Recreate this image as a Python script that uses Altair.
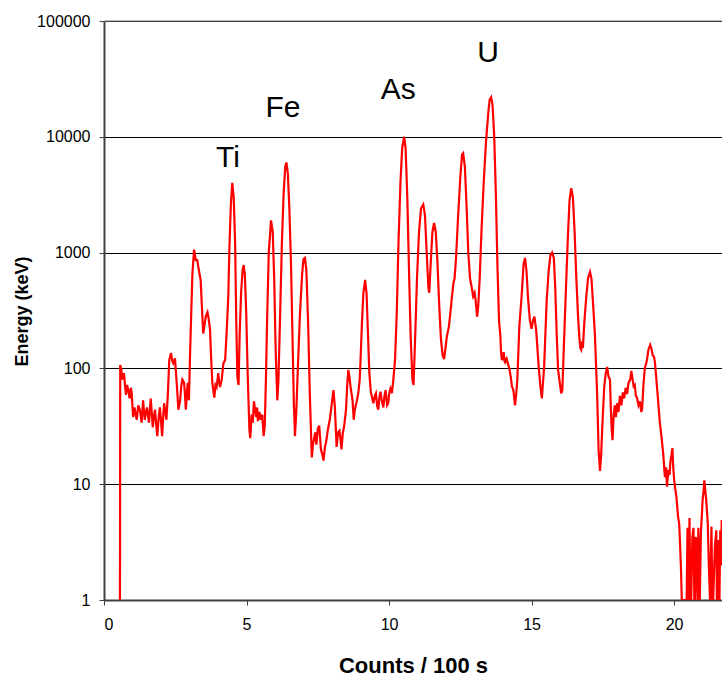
import altair as alt
import pandas as pd

# Spectrum: x = Counts / 100 s axis values, y = Energy (keV) axis values (log)
spec_x = [
    0.56, 0.57, 0.60, 0.65, 0.70, 0.74, 0.77, 0.81, 0.85, 0.90, 0.94, 0.97,
    1.02, 1.07, 1.11, 1.15, 1.20, 1.26, 1.32, 1.37, 1.43, 1.47, 1.51, 1.55,
    1.58, 1.64, 1.68, 1.71, 1.75, 1.79, 1.83, 1.87, 1.92, 1.96, 2.00, 2.04,
    2.08, 2.11, 2.15, 2.19, 2.24, 2.29, 2.35, 2.40, 2.43, 2.49, 2.55, 2.61,
    2.67, 2.71, 2.75, 2.81, 2.84, 2.87, 2.91, 2.94, 2.98, 3.02, 3.06, 3.10,
    3.16, 3.22, 3.27, 3.33, 3.39, 3.44, 3.48, 3.53, 3.57, 3.63, 3.67, 3.72,
    3.76, 3.80, 3.87, 3.91, 3.95, 4.01, 4.04, 4.07, 4.13, 4.19, 4.25, 4.30,
    4.36, 4.40, 4.45, 4.50, 4.55, 4.60, 4.64, 4.68, 4.72, 4.76, 4.81, 4.86,
    4.90, 4.94, 4.99, 5.04, 5.10, 5.13, 5.18, 5.22, 5.26, 5.30, 5.34, 5.37,
    5.40, 5.45, 5.50, 5.55, 5.60, 5.64, 5.68, 5.72, 5.78, 5.86, 5.92, 5.97,
    6.02, 6.08, 6.12, 6.18, 6.24, 6.30, 6.36, 6.40, 6.45, 6.50, 6.56, 6.61,
    6.66, 6.70, 6.75, 6.80, 6.87, 6.95, 7.00, 7.05, 7.10, 7.16, 7.22, 7.29,
    7.33, 7.36, 7.41, 7.45, 7.50, 7.55, 7.61, 7.66, 7.70, 7.75, 7.79, 7.84,
    7.87, 7.92, 7.95, 8.00, 8.05, 8.10, 8.16, 8.21, 8.26, 8.30, 8.33, 8.38,
    8.42, 8.46, 8.49, 8.53, 8.57, 8.61, 8.65, 8.72, 8.76, 8.80, 8.86, 8.92,
    8.97, 9.00, 9.05, 9.10, 9.16, 9.21, 9.26, 9.31, 9.36, 9.41, 9.45, 9.50,
    9.54, 9.58, 9.62, 9.66, 9.70, 9.75, 9.80, 9.84, 9.88, 9.93, 9.97, 10.01,
    10.05, 10.10, 10.15, 10.21, 10.27, 10.33, 10.40, 10.46, 10.53, 10.58, 10.64, 10.70,
    10.76, 10.82, 10.86, 10.92, 10.98, 11.05, 11.12, 11.20, 11.26, 11.32, 11.38, 11.41,
    11.46, 11.52, 11.58, 11.64, 11.70, 11.76, 11.82, 11.88, 11.93, 11.98, 12.03, 12.10,
    12.15, 12.20, 12.26, 12.30, 12.35, 12.42, 12.50, 12.56, 12.60, 12.66, 12.72, 12.78,
    12.84, 12.90, 12.95, 13.00, 13.04, 13.09, 13.13, 13.18, 13.24, 13.32, 13.40, 13.48,
    13.53, 13.58, 13.63, 13.69, 13.75, 13.80, 13.86, 13.90, 13.93, 13.96, 14.00, 14.02,
    14.05, 14.07, 14.10, 14.12, 14.17, 14.22, 14.27, 14.31, 14.36, 14.42, 14.46, 14.50,
    14.57, 14.65, 14.72, 14.77, 14.82, 14.88, 14.94, 15.00, 15.05, 15.10, 15.16, 15.25,
    15.31, 15.36, 15.44, 15.53, 15.60, 15.66, 15.72, 15.78, 15.83, 15.88, 15.93, 15.99,
    16.04, 16.08, 16.13, 16.20, 16.27, 16.33, 16.39, 16.45, 16.51, 16.57, 16.63, 16.68,
    16.71, 16.74, 16.77, 16.80, 16.85, 16.92, 16.98, 17.05, 17.10, 17.16, 17.22, 17.30,
    17.35, 17.40, 17.44, 17.50, 17.55, 17.60, 17.65, 17.70, 17.75, 17.78, 17.81, 17.84,
    17.88, 17.92, 17.96, 18.00, 18.05, 18.10, 18.15, 18.20, 18.25, 18.30, 18.35, 18.40,
    18.46, 18.50, 18.54, 18.58, 18.62, 18.66, 18.70, 18.75, 18.80, 18.85, 18.88, 18.92,
    18.97, 19.02, 19.05, 19.10, 19.16, 19.20, 19.25, 19.30, 19.33, 19.37, 19.42, 19.46,
    19.50, 19.54, 19.57, 19.62, 19.66, 19.68, 19.72, 19.75, 19.80, 19.84, 19.87, 19.91,
    19.94, 19.97, 20.00, 20.03, 20.08, 20.14, 20.18, 20.21, 20.24, 20.27, 20.44, 20.47,
    20.50, 20.54, 20.57, 20.60, 20.64, 20.68, 20.71, 20.73, 20.76, 20.79, 20.82, 20.85,
    20.90, 20.94, 20.97, 21.00, 21.03, 21.06, 21.09, 21.12, 21.15, 21.18, 21.22, 21.26,
    21.31, 21.34, 21.37, 21.43, 21.48, 21.50, 21.53, 21.56, 21.59, 21.62, 21.65, 21.67,
    21.72,
]
spec_y = [
    1, 107, 100, 80, 91, 70, 59, 72, 65, 55, 68, 62,
    38, 46, 40, 36, 48, 44, 34, 53, 36, 42, 46, 38,
    34, 55, 40, 31, 38, 44, 33, 26, 38, 46, 35, 26,
    40, 50, 42, 36, 60, 118, 136, 115, 111, 122, 75, 44,
    53, 70, 80, 75, 60, 44, 62, 75, 53, 136, 300, 650,
    1060, 860, 860, 700, 580, 320, 200, 240, 280, 305, 270, 215,
    120, 75, 56, 72, 69, 91, 75, 69, 80, 111, 118, 200,
    420, 1100, 2600, 4000, 3000, 1200, 250, 84, 72, 200, 450, 700,
    780, 650, 300, 90, 30, 25, 40, 34, 52, 44, 38, 46,
    35, 42, 36, 40, 26, 32, 80, 250, 1000, 1900, 1500, 600,
    150, 53, 80, 300, 1200, 3200, 5600, 6000, 4800, 2500, 800, 200,
    50, 26, 45, 100, 280, 650, 880, 900, 700, 250, 60, 17,
    22, 24, 28, 22, 30, 32, 20, 18, 16, 21, 23, 28,
    31, 36, 41, 52, 65, 46, 21, 28, 29, 24, 20, 28,
    31, 38, 44, 70, 97, 85, 69, 53, 36, 44, 51, 61,
    80, 118, 250, 450, 580, 450, 200, 90, 63, 55, 50, 58,
    61, 48, 44, 56, 63, 52, 46, 58, 65, 48, 50, 62,
    67, 61, 80, 118, 300, 1200, 4000, 8000, 10000, 8000, 3000, 700,
    180, 80, 72, 200, 600, 1500, 2400, 2600, 2100, 1000, 500, 450,
    800, 1500, 1800, 1500, 800, 350, 180, 130, 120, 150, 190, 230,
    300, 400, 550, 600, 900, 2000, 4500, 7000, 7200, 5500, 2500, 1000,
    600, 500, 420, 450, 380, 280, 350, 600, 1500, 4000, 9000, 16000,
    21000, 22000, 19000, 10000, 3000, 800, 250, 200, 136, 118, 125, 138,
    115, 113, 120, 122, 110, 100, 84, 70, 65, 48, 60, 80,
    230, 420, 800, 900, 700, 390, 260, 220, 260, 280, 215, 103,
    70, 55, 103, 390, 700, 950, 1000, 900, 500, 200, 97, 75,
    61, 65, 150, 450, 1300, 2800, 3600, 3000, 1500, 600, 280, 180,
    150, 145, 170, 150, 250, 420, 600, 680, 600, 350, 200, 60,
    20, 13, 18, 40, 70, 90, 103, 85, 80, 45, 30, 24,
    40, 48, 38, 50, 42, 58, 48, 62, 55, 68, 60, 75,
    80, 95, 82, 70, 72, 58, 56, 48, 52, 42, 45, 70,
    100, 110, 120, 145, 160, 150, 130, 125, 111, 85, 60, 45,
    34, 28, 24, 18, 13, 11.5, 14, 9.5, 13.3, 12, 15.6, 18,
    20.5, 13.8, 11, 9.5, 7.8, 5.2, 4.5, 3, 1.9, 1, 1, 4.2,
    1, 5.1, 1, 1, 3.5, 4.2, 1, 1, 3.5, 2.9, 1, 4.2,
    1, 3.8, 5.2, 7.3, 8.5, 10.8, 9, 7.6, 6, 4.6, 1.9, 1,
    4.3, 1, 1, 2.9, 4, 1, 1, 3.3, 1, 4, 2, 4.9,
    3,
]

# Element labels placed at data coordinates
label_text = ["Ti", "Fe", "As", "U"]
label_x = [4.35, 6.28, 10.32, 13.47]
label_y = [6560, 17700, 25400, 52900]

y_ticks = [1, 10, 100, 1000, 10000, 100000]
x_ticks = [0, 5, 10, 15, 20]

FONT = "Liberation Sans"

spec = pd.DataFrame({"x": spec_x, "y": spec_y, "i": list(range(len(spec_x)))})
labels = pd.DataFrame({"t": label_text, "x": label_x, "y": label_y})

x_scale = alt.Scale(domain=[0, 21.68], nice=False, zero=False)
y_scale = alt.Scale(type="log", domain=[1, 100000], nice=False)

x_axis = alt.Axis(
    values=x_ticks, grid=False, title="Counts / 100 s",
    labelFont=FONT, labelFontSize=16, labelColor="black", labelPadding=11,
    tickSize=5, tickColor="#404040", domainColor="#404040", domainWidth=2,
    titleFont=FONT, titleFontSize=22, titleFontWeight="bold", titleColor="black",
    titleX=309, titleY=65, titleBaseline="middle", titleAnchor="middle",
)
y_axis = alt.Axis(
    values=y_ticks, format="d", grid=True, gridColor="black", gridWidth=1,
    title="Energy (keV)",
    labelFont=FONT, labelFontSize=16, labelColor="black", labelPadding=9,
    tickSize=5, tickColor="#404040", domainColor="#404040", domainWidth=2,
    titleFont=FONT, titleFontSize=18, titleFontWeight="bold", titleColor="black",
    titleX=-82, titleY=290, titleAngle=270, titleBaseline="middle", titleAlign="center",
)

line = alt.Chart(spec).mark_line(color="#FF0000", strokeWidth=2.2, clip=True).encode(
    x=alt.X("x:Q", scale=x_scale, axis=x_axis),
    y=alt.Y("y:Q", scale=y_scale, axis=y_axis),
    order="i:Q",
)

top_rule = alt.Chart(pd.DataFrame({"y": [100000]})).mark_rule(color="#808080", strokeWidth=1).encode(
    y=alt.Y("y:Q", scale=y_scale),
)

text = alt.Chart(labels).mark_text(font=FONT, fontSize=30, color="black", align="center", baseline="middle").encode(
    x=alt.X("x:Q", scale=x_scale),
    y=alt.Y("y:Q", scale=y_scale),
    text="t:N",
)

chart = alt.layer(top_rule, line, text).properties(
    width=618, height=579,
    autosize=alt.AutoSizeParams(type="none"),
    padding={"left": 104, "top": 21, "right": 0, "bottom": 76},
    background="white",
).configure_view(stroke=None)

chart.save("out.html", embed_options={"renderer": "svg", "actions": False})
